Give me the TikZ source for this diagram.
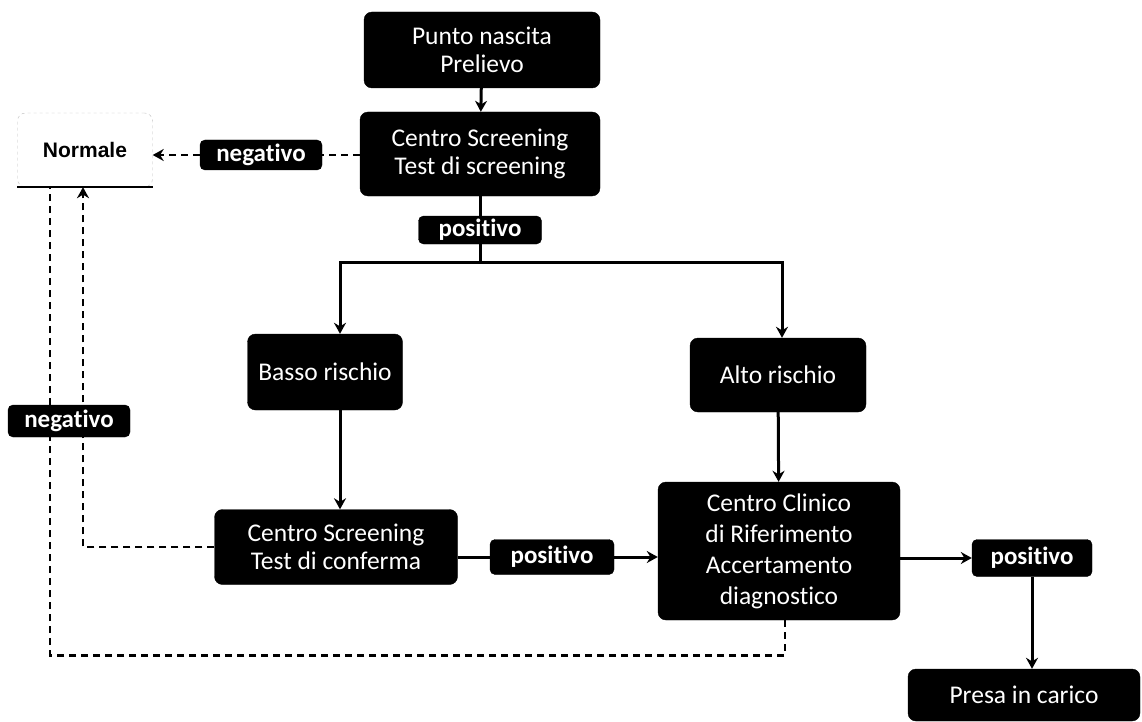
\documentclass[tikz,border=0pt]{standalone}
\usepackage{fontspec}
\setmainfont{Carlito}[Ligatures={NoCommon}]
\newfontfamily\arialfont{Liberation Sans}
\usetikzlibrary{arrows.meta,positioning}
\tikzset{
  blackbox/.style={draw=black, fill=black, text=white, rounded corners=8pt, align=center,
    inner sep=2pt, font=\fontsize{25.5}{28}\selectfont},
  tagbox/.style={draw=black, fill=black, text=white, rounded corners=5pt, inner sep=2pt,
    font=\bfseries\fontsize{25}{26}\selectfont},
  normbox/.style={draw=black!25, dashed, fill=white, rounded corners=8pt, inner sep=2pt,
    font=\arialfont\bfseries\fontsize{21}{24}\selectfont},
  flow/.style={line width=3pt, -{Stealth[length=11pt,width=12pt]}},
  flowline/.style={line width=3pt},
  back/.style={line width=2.6pt, dash pattern=on 7pt off 5pt},
  backarrow/.style={back, -{Stealth[length=11pt,width=12pt]}}
}
\begin{document}
\begin{tikzpicture}[x=1pt,y=-1pt]
\useasboundingbox (0,0) rectangle (1142,722);
% boxes
\node[blackbox, minimum width=236pt, minimum height=76pt] (nascita) at (482,50) {Punto nascita\\Prelievo};
\node[blackbox, minimum width=240pt, minimum height=84pt] (screening) at (480,154) {Centro Screening\\Test di screening};
\node[normbox, minimum width=135pt, minimum height=74pt] (normale) at (85,150) {Normale};
\node[tagbox, minimum width=122pt, minimum height=30pt] (neg1) at (261,155) {negativo};
\node[tagbox, minimum width=123pt, minimum height=28pt] (pos1) at (480,230) {positivo};
\node[blackbox, minimum width=155pt, minimum height=76pt] (basso) at (325,372) {Basso rischio};
\node[blackbox, minimum width=176pt, minimum height=74pt] (alto) at (778,375) {Alto rischio};
\node[blackbox, minimum width=243pt, minimum height=75pt] (conferma) at (336,547) {Centro Screening\\Test di conferma};
\node[tagbox, minimum width=124pt, minimum height=35pt] (pos2) at (552,557) {positivo};
\node[blackbox, minimum width=242pt, minimum height=138pt, font=\fontsize{25.5}{31}\selectfont] (clinico) at (779,551)
  {Centro Clinico\\di Riferimento\\Accertamento\\diagnostico};
\node[tagbox, minimum width=120pt, minimum height=37pt] (pos3) at (1032,558) {positivo};
\node[blackbox, minimum width=232pt, minimum height=52pt] (presa) at (1024,695) {Presa in carico};
\draw[line width=2.5pt] (normale.south west) -- (normale.south east);
% main flow
\draw[flow] (nascita) -- (screening);
\draw[flowline] (screening) -- (pos1);
\draw[flowline] (pos1.south) -- ++(0,18) coordinate (split);
\draw[flow] (split) -| ([xshift=15pt]basso.north);
\draw[flow] (split) -| ([xshift=4pt]alto.north);
\draw[flow] ([xshift=15pt]basso.south) -- ([xshift=15pt]basso.south |- conferma.north);
\draw[flow] (alto) -- (clinico);
\draw[flowline] (conferma.east |- pos2.west) -- (pos2.west);
\draw[flow] (pos2) -- (clinico.west |- pos2);
\draw[flow] (clinico.east |- pos3) -- (pos3);
\draw[flow] (pos3) -- (presa.north -| pos3);
% negative results
\draw[back] (screening.west |- neg1) -- (neg1);
\draw[backarrow] (neg1.west) -- (normale.east |- neg1.west);
\draw[backarrow] (conferma.west) -| ([xshift=-2pt]normale.south);
\draw[back] ([xshift=6pt]clinico.south) -- ++(0,35) -| ([xshift=-35pt]normale.south);
\node[tagbox, minimum width=122pt, minimum height=32pt] (neg2) at (69,421) {negativo};
\end{tikzpicture}
\end{document}
